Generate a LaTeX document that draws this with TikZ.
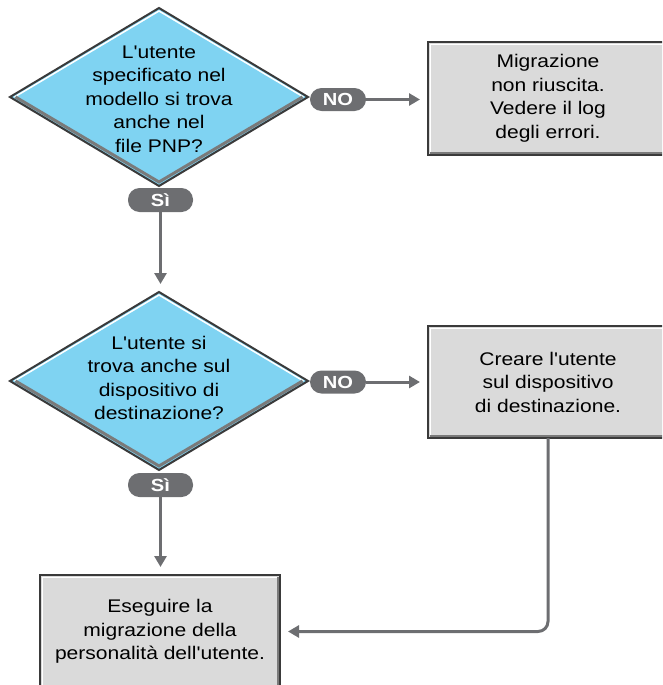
\documentclass[tikz,border=0pt]{standalone}
\usepackage{fontspec}
\setmainfont{Liberation Sans}[FakeStretch=1.15,Ligatures=TeXOff]
\usetikzlibrary{arrows.meta}
\definecolor{dblue}{HTML}{7FD3F2}
\definecolor{lgray}{HTML}{DADADA}
\definecolor{cgray}{HTML}{6D6E71}
\definecolor{bdark}{HTML}{3A3A3A}
\definecolor{shadowgray}{HTML}{7A7A7A}
\newcommand\flowdiamond[3]{%
  \coordinate (#1) at (#2,#3);
  \coordinate (#1-w) at ({#2-149},#3);
  \coordinate (#1-n) at (#2,{#3-89});
  \coordinate (#1-e) at ({#2+149},#3);
  \coordinate (#1-s) at (#2,{#3+89});
  \fill[dblue] (#1-w)--(#1-n)--(#1-e)--(#1-s)--cycle;
  \draw[white,line width=1.5pt] ([xshift=4.5pt]#1-w)--([yshift=-3pt]#1-n)--([xshift=-4.5pt]#1-e);
  \draw[shadowgray,line width=3pt] ([xshift=5.5pt]#1-w)--([yshift=4pt]#1-s)--([xshift=-5.5pt]#1-e);
  \draw[bdark,line width=2pt] (#1-w)--(#1-n)--(#1-e)--(#1-s)--cycle;
}
\newcommand\boxshade[1]{%
  \draw[white,line width=1.5pt] ([shift={(2.5pt,3pt)}]#1.south west) -- ([shift={(2.5pt,-2.5pt)}]#1.north west) -- ([shift={(-3pt,-2.5pt)}]#1.north east);
  \draw[shadowgray,line width=2.5pt] ([shift={(2pt,2.2pt)}]#1.south west) -- ([shift={(-2.2pt,2.2pt)}]#1.south east) -- ([shift={(-2.2pt,-2pt)}]#1.north east);
}
\begin{document}
\begin{tikzpicture}[x=1pt,y=-1pt,
  txt/.style={align=center,font=\fontsize{18.3}{23.5}\selectfont,inner sep=0pt},
  pill/.style={rounded corners=11.5pt,fill=cgray,text=white,font=\bfseries\fontsize{17.5}{17.5}\selectfont,minimum height=23pt,inner sep=0pt,outer sep=0pt},
  stepbox/.style={txt,rectangle,fill=lgray,draw=bdark,line width=2pt,minimum width=240pt,minimum height=113pt,outer sep=0pt},
  conn/.style={draw=cgray,line width=3pt,-{Triangle[length=11pt,width=12pt]},shorten >=8pt}]
\useasboundingbox (0,0) rectangle (662,685);
\begin{scope}
\clip (0,0) rectangle (662,685);
% diamonds
\flowdiamond{d1}{159}{97}
\node[txt] (d1t) at (159,99) {L'utente\\specificato nel\\modello si trova\\anche nel\\file PNP?};
\flowdiamond{d2}{159}{381}
\node[txt] (d2t) at (159,378) {L'utente si\\trova anche sul\\dispositivo di\\destinazione?};
% boxes
\node[stepbox] (b1) at (548,98.5) {Migrazione\\non riuscita.\\Vedere il log\\degli errori.};
\boxshade{b1}
\node[stepbox,minimum height=112pt] (b2) at (548,382) {Creare l'utente\\sul dispositivo\\di destinazione.};
\boxshade{b2}
\node[stepbox] (b3) at (160,631.5) {Eseguire la\\migrazione della\\personalità dell'utente.};
\boxshade{b3}
% pills
\node[pill,minimum width=56pt] (no1) at (338,99.5) {NO};
\node[pill,minimum width=65pt,minimum height=24pt] (si1) at (160.5,200) {Sì};
\node[pill,minimum width=56pt] (no2) at (338,382) {NO};
\node[pill,minimum width=65pt,minimum height=24pt] (si2) at (160.5,485) {Sì};
% connectors
\draw[conn] (no1.east) -- (b1.west |- no1.east);
\draw[conn] (no2.east) -- (b2.west |- no2.east);
\draw[conn] (si1.south) -- (si1.south |- d2-n);
\draw[conn] (si2.south) -- (si2.south |- b3.north);
\draw[conn,rounded corners=10pt] (b2.south) |- (b3.east);
\end{scope}
\end{tikzpicture}
\end{document}
